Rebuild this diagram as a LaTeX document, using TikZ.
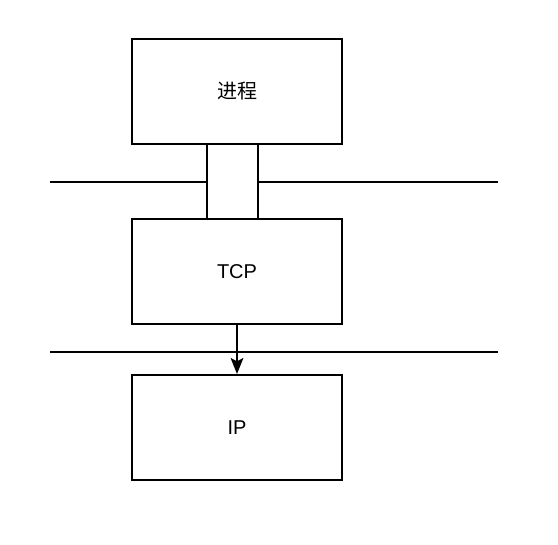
\documentclass[tikz,border=0pt]{standalone}
\usepackage{fontspec}
\setmainfont{Liberation Sans}
\newfontfamily\cjk{Noto Sans CJK SC}
\usetikzlibrary{arrows.meta}

\begin{document}
\begin{tikzpicture}[x=0.75pt, y=-0.75pt,
    layer/.style={draw, line width=1.5pt, minimum width=157.5pt, minimum height=78.75pt, inner sep=0pt, font=\fontsize{15}{18}\selectfont},
    port/.style={draw, line width=1.5pt, minimum width=38.25pt, minimum height=56.25pt, inner sep=0pt},
    wire/.style={line width=1.5pt}]
          \useasboundingbox (0, 0) rectangle (558, 544);
          \node [layer] (PR) at (237, 91.5) {\cjk 进程};
          \node [port] (PT) at (232.5, 181.5) {};
          \node [layer] (TC) at (237, 271.5) {TCP};
          \node [layer] (IP) at (237, 427.5) {IP};
          \coordinate (LU) at (50, 182);
          \coordinate (RU) at (498, 182);
          \coordinate (LD) at (50, 352);
          \coordinate (RD) at (498, 352);
          \draw [wire] (LU) -- (LU -| PT.west);
          \draw [wire] (RU -| PT.east) -- (RU);
          \draw [wire] (LD) -- (RD);
          \draw [wire, -{Stealth[length=12pt, width=9.5pt, inset=2.5pt]}] (TC) -- (IP);
  \end{tikzpicture}
\end{document}
